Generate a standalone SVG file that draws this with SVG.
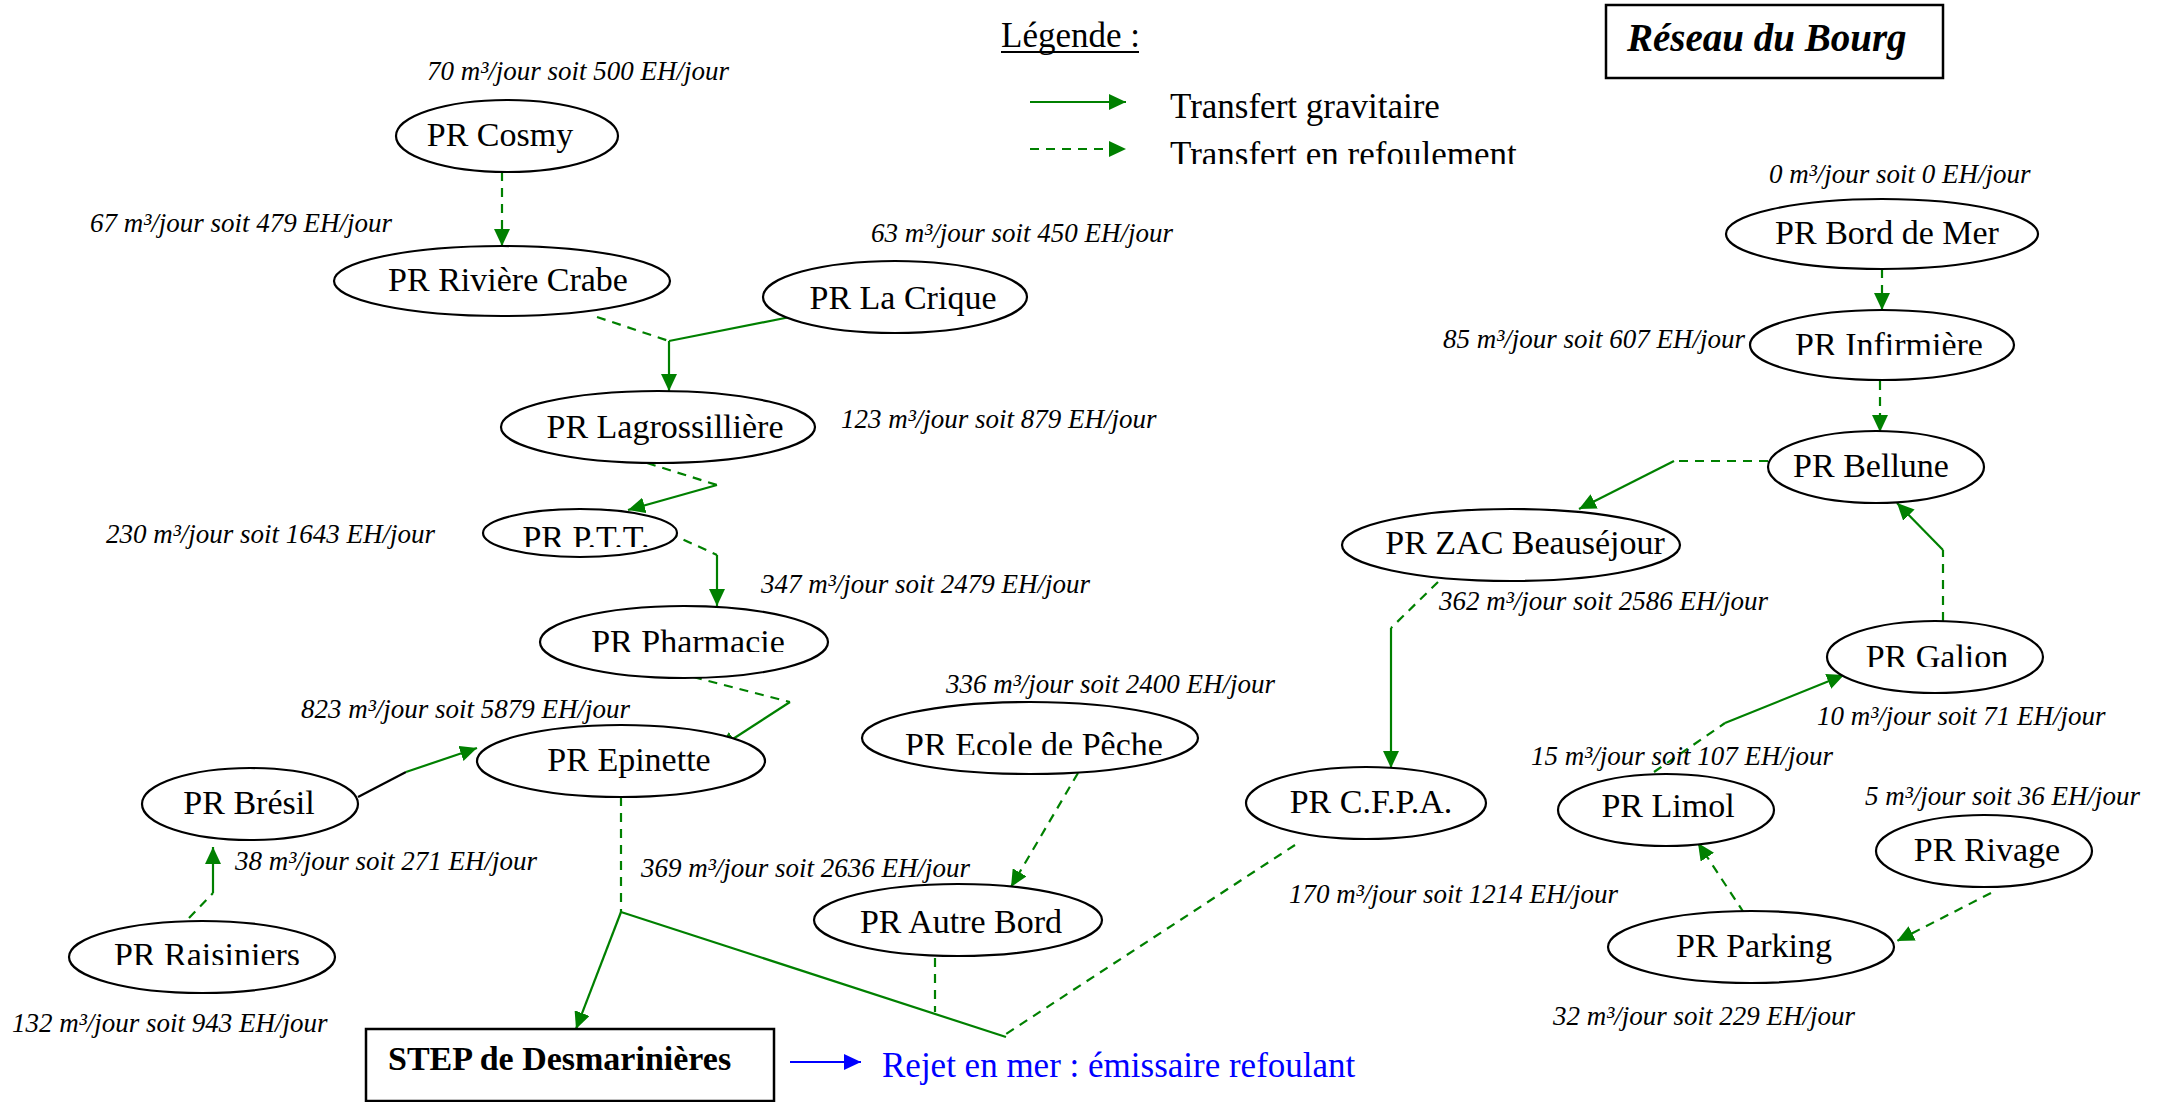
<svg xmlns="http://www.w3.org/2000/svg" width="2160" height="1102" viewBox="0 0 2160 1102">
  <style>
    .node { fill: #ffffff; stroke: #000000; stroke-width: 2.2; }
    .name { font-family: "Liberation Serif", "Times New Roman", serif; font-size: 34px; fill: #000000; text-anchor: middle; }
    .flow { font-family: "Liberation Serif", "Times New Roman", serif; font-size: 27px; font-style: italic; fill: #000000; }
    .grav { fill: none; stroke: #008000; stroke-width: 2.2; }
    .pump { fill: none; stroke: #008000; stroke-width: 2.2; stroke-dasharray: 9 7; }
    .arrow { marker-end: url(#head); }
    .legend { font-family: "Liberation Serif", "Times New Roman", serif; font-size: 35px; fill: #000000; }
  </style>
  <defs>
    <marker id="head" markerUnits="userSpaceOnUse" markerWidth="18" markerHeight="16" refX="17" refY="8" orient="auto">
      <path d="M0,0 L17,8 L0,16 Z" fill="#008000"/>
    </marker>
    <marker id="headBlue" markerUnits="userSpaceOnUse" markerWidth="18" markerHeight="16" refX="17" refY="8" orient="auto">
      <path d="M0,0 L17,8 L0,16 Z" fill="#0000ff"/>
    </marker>
    <!-- labels whose lower part is cut off at the baseline -->
    <clipPath id="cutRefoulement"><rect x="1100" y="120" width="500" height="44"/></clipPath>
    <clipPath id="cutPTT"><rect x="480" y="505" width="200" height="42"/></clipPath>
    <clipPath id="cutPharmacie"><rect x="540" y="600" width="290" height="52"/></clipPath>
    <clipPath id="cutEcole"><rect x="860" y="700" width="340" height="55"/></clipPath>
    <clipPath id="cutInfirmiere"><rect x="1750" y="305" width="270" height="50"/></clipPath>
    <clipPath id="cutGalion"><rect x="1825" y="620" width="220" height="47"/></clipPath>
    <clipPath id="cutRaisiniers"><rect x="69" y="920" width="270" height="45"/></clipPath>
  </defs>

  <rect x="0" y="0" width="2160" height="1102" fill="#ffffff"/>

  <!-- title -->
  <g id="title">
    <rect x="1606" y="5" width="337" height="73" fill="none" stroke="#000000" stroke-width="2.5"/>
    <text x="1627" y="51" font-family="Liberation Serif, serif" font-size="39" font-weight="bold" font-style="italic">Réseau du Bourg</text>
  </g>

  <!-- legend -->
  <g id="legend">
    <text class="legend" x="1001" y="47">Légende :</text>
    <line x1="1001" y1="52" x2="1139" y2="52" stroke="#000000" stroke-width="2"/>
    <line class="grav arrow" x1="1030" y1="102" x2="1126" y2="102"/>
    <text class="legend" x="1170" y="118">Transfert gravitaire</text>
    <line class="pump arrow" x1="1030" y1="149" x2="1126" y2="149"/>
    <text class="legend" x="1170" y="166" clip-path="url(#cutRefoulement)">Transfert en refoulement</text>
  </g>

  <!-- connectors -->
  <g id="connectors">
    <line class="pump arrow" x1="502" y1="172" x2="502" y2="246"/>
    <line class="pump" x1="597" y1="317" x2="669" y2="341"/>
    <line class="grav" x1="790" y1="317" x2="669" y2="341"/>
    <line class="grav arrow" x1="669" y1="341" x2="669" y2="391"/>
    <line class="pump" x1="647" y1="463" x2="717" y2="485"/>
    <line class="grav arrow" x1="717" y1="485" x2="628" y2="510"/>
    <line class="pump" x1="669" y1="533" x2="717" y2="555"/>
    <line class="grav arrow" x1="717" y1="555" x2="717" y2="606"/>
    <line class="pump" x1="693" y1="677" x2="790" y2="702"/>
    <line class="grav arrow" x1="790" y1="702" x2="719" y2="748"/>
    <line x1="358" y1="797" x2="406" y2="772" stroke="#000000" stroke-width="2.2"/>
    <line class="grav arrow" x1="406" y1="772" x2="477" y2="748"/>
    <line class="pump" x1="189" y1="918" x2="213" y2="893"/>
    <line class="grav arrow" x1="213" y1="893" x2="213" y2="847"/>
    <line class="pump" x1="621" y1="797" x2="621" y2="912"/>
    <line class="grav arrow" x1="621" y1="912" x2="576" y2="1029"/>
    <line class="grav" x1="621" y1="912" x2="1006" y2="1037"/>
    <line class="pump" x1="935" y1="958" x2="935" y2="1012"/>
    <line class="pump" x1="1295" y1="845" x2="1006" y2="1034"/>
    <line class="pump arrow" x1="1078" y1="773" x2="1011" y2="887"/>
    <line class="pump" x1="1438" y1="582" x2="1391" y2="628"/>
    <line class="grav arrow" x1="1391" y1="628" x2="1391" y2="768"/>
    <line class="pump" x1="1768" y1="461" x2="1674" y2="461"/>
    <line class="grav arrow" x1="1674" y1="461" x2="1579" y2="509"/>
    <line class="pump" x1="1943" y1="621" x2="1943" y2="550"/>
    <line class="grav arrow" x1="1943" y1="550" x2="1897" y2="503"/>
    <line class="pump" x1="1654" y1="772" x2="1725" y2="723"/>
    <line class="grav arrow" x1="1725" y1="723" x2="1844" y2="675"/>
    <line class="pump arrow" x1="1744" y1="913" x2="1698" y2="843"/>
    <line class="pump arrow" x1="1991" y1="893" x2="1897" y2="941"/>
    <line class="pump arrow" x1="1882" y1="269" x2="1882" y2="310"/>
    <line class="pump arrow" x1="1880" y1="381" x2="1880" y2="432"/>
    <line x1="790" y1="1062" x2="861" y2="1062" stroke="#0000ff" stroke-width="2.2" marker-end="url(#headBlue)"/>
  </g>

  <!-- pumping stations -->
  <g id="pr-cosmy">
    <ellipse class="node" cx="507" cy="136" rx="111" ry="36"/>
    <text class="name" x="500" y="146">PR Cosmy</text>
    <text class="flow" x="427" y="80">70 m³/jour soit 500 EH/jour</text>
  </g>
  <g id="pr-riviere-crabe">
    <ellipse class="node" cx="502" cy="281" rx="168" ry="35"/>
    <text class="name" x="508" y="291">PR Rivière Crabe</text>
    <text class="flow" x="90" y="232">67 m³/jour soit 479 EH/jour</text>
  </g>
  <g id="pr-la-crique">
    <ellipse class="node" cx="895" cy="297" rx="132" ry="36"/>
    <text class="name" x="903" y="309">PR La Crique</text>
    <text class="flow" x="871" y="242">63 m³/jour soit 450 EH/jour</text>
  </g>
  <g id="pr-lagrossilliere">
    <ellipse class="node" cx="658" cy="427" rx="157" ry="36"/>
    <text class="name" x="665" y="438">PR Lagrossillière</text>
    <text class="flow" x="841" y="428">123 m³/jour soit 879 EH/jour</text>
  </g>
  <g id="pr-ptt">
    <ellipse class="node" cx="580" cy="533" rx="97" ry="24"/>
    <text class="name" x="586" y="549" clip-path="url(#cutPTT)">PR P.T.T.</text>
    <text class="flow" x="106" y="543">230 m³/jour soit 1643 EH/jour</text>
  </g>
  <g id="pr-pharmacie">
    <ellipse class="node" cx="684" cy="642" rx="144" ry="36"/>
    <text class="name" x="688" y="653" clip-path="url(#cutPharmacie)">PR Pharmacie</text>
    <text class="flow" x="761" y="593">347 m³/jour soit 2479 EH/jour</text>
  </g>
  <g id="pr-epinette">
    <ellipse class="node" cx="621" cy="761" rx="144" ry="36"/>
    <text class="name" x="629" y="771">PR Epinette</text>
    <text class="flow" x="301" y="718">823 m³/jour soit 5879 EH/jour</text>
  </g>
  <g id="pr-bresil">
    <ellipse class="node" cx="250" cy="804" rx="108" ry="36"/>
    <text class="name" x="249" y="814">PR Brésil</text>
    <text class="flow" x="235" y="870">38 m³/jour soit 271 EH/jour</text>
  </g>
  <g id="pr-raisiniers">
    <ellipse class="node" cx="202" cy="957" rx="133" ry="36"/>
    <text class="name" x="207" y="966" clip-path="url(#cutRaisiniers)">PR Raisiniers</text>
    <text class="flow" x="12" y="1032">132 m³/jour soit 943 EH/jour</text>
  </g>
  <g id="pr-ecole-de-peche">
    <ellipse class="node" cx="1030" cy="738" rx="168" ry="36"/>
    <text class="name" x="1034" y="756" clip-path="url(#cutEcole)">PR Ecole de Pêche</text>
    <text class="flow" x="946" y="693">336 m³/jour soit 2400 EH/jour</text>
  </g>
  <g id="pr-autre-bord">
    <ellipse class="node" cx="958" cy="920" rx="144" ry="36"/>
    <text class="name" x="961" y="933">PR Autre Bord</text>
    <text class="flow" x="641" y="877">369 m³/jour soit 2636 EH/jour</text>
  </g>
  <g id="pr-cfpa">
    <ellipse class="node" cx="1366" cy="803" rx="120" ry="36"/>
    <text class="name" x="1371" y="813">PR C.F.P.A.</text>
    <text class="flow" x="1289" y="903">170 m³/jour soit 1214 EH/jour</text>
  </g>
  <g id="pr-zac-beausejour">
    <ellipse class="node" cx="1511" cy="545" rx="169" ry="36"/>
    <text class="name" x="1525" y="554">PR ZAC Beauséjour</text>
    <text class="flow" x="1439" y="610">362 m³/jour soit 2586 EH/jour</text>
  </g>
  <g id="pr-bord-de-mer">
    <ellipse class="node" cx="1882" cy="234" rx="156" ry="35"/>
    <text class="name" x="1887" y="244">PR Bord de Mer</text>
    <text class="flow" x="1769" y="183">0 m³/jour soit 0 EH/jour</text>
  </g>
  <g id="pr-infirmiere">
    <ellipse class="node" cx="1882" cy="345" rx="132" ry="35"/>
    <text class="name" x="1889" y="356" clip-path="url(#cutInfirmiere)">PR Infirmière</text>
    <text class="flow" x="1443" y="348">85 m³/jour soit 607 EH/jour</text>
  </g>
  <g id="pr-bellune">
    <ellipse class="node" cx="1876" cy="467" rx="108" ry="36"/>
    <text class="name" x="1871" y="477">PR Bellune</text>
  </g>
  <g id="pr-galion">
    <ellipse class="node" cx="1935" cy="657" rx="108" ry="36"/>
    <text class="name" x="1937" y="668" clip-path="url(#cutGalion)">PR Galion</text>
    <text class="flow" x="1817" y="725">10 m³/jour soit 71 EH/jour</text>
  </g>
  <g id="pr-limol">
    <ellipse class="node" cx="1666" cy="810" rx="108" ry="36"/>
    <text class="name" x="1668" y="817">PR Limol</text>
    <text class="flow" x="1531" y="765">15 m³/jour soit 107 EH/jour</text>
  </g>
  <g id="pr-rivage">
    <ellipse class="node" cx="1984" cy="851" rx="108" ry="36"/>
    <text class="name" x="1987" y="861">PR Rivage</text>
    <text class="flow" x="1865" y="805">5 m³/jour soit 36 EH/jour</text>
  </g>
  <g id="pr-parking">
    <ellipse class="node" cx="1751" cy="947" rx="143" ry="36"/>
    <text class="name" x="1754" y="957">PR Parking</text>
    <text class="flow" x="1553" y="1025">32 m³/jour soit 229 EH/jour</text>
  </g>

  <!-- treatment plant and outfall -->
  <g id="step">
    <rect x="366" y="1029" width="408" height="72" fill="#ffffff" stroke="#000000" stroke-width="2.5"/>
    <text x="388" y="1070" font-family="Liberation Serif, serif" font-size="34" font-weight="bold">STEP de Desmarinières</text>
  </g>
  <g id="outfall">
    <text x="882" y="1077" font-family="Liberation Serif, serif" font-size="35" fill="#0000ff">Rejet en mer : émissaire refoulant</text>
  </g>
</svg>
